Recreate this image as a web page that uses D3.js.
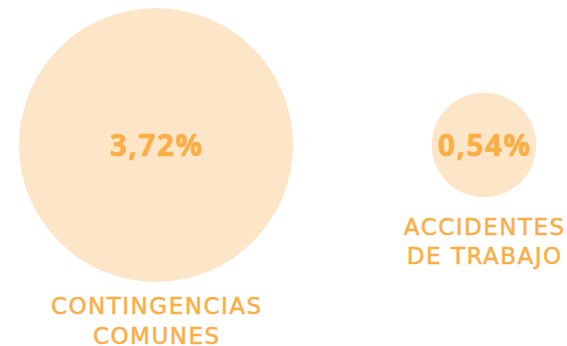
<!DOCTYPE html>
<html>
<head>
<meta charset="utf-8">
<script src="https://cdn.jsdelivr.net/npm/d3@7"></script>
<style>
  html, body { margin: 0; padding: 0; background: #ffffff; }
  svg { display: block; }
</style>
</head>
<body>
<svg id="chart" width="567" height="346"></svg>
<script>
// Absence rate by cause (percent)
const categories = ["CONTINGENCIAS COMUNES", "ACCIDENTES DE TRABAJO"];
const labelLines = [["CONTINGENCIAS", "COMUNES"], ["ACCIDENTES", "DE TRABAJO"]];
const values = [3.72, 0.54];
const valueLabels = ["3,72%", "0,54%"];

const fillColor = "#fde6c7";
const textColor = "#fbae45";

const svg = d3.select("#chart");

// Bubble centres along one row, bubble area proportional to the value
const x = d3.scalePoint().domain(categories).range([156, 484]);
const r = d3.scaleSqrt().domain([0, d3.max(values)]).range([0, 137]);
const cy = 145;

const data = categories.map((c, i) => ({
  cat: c, value: values[i], label: valueLabels[i], lines: labelLines[i]
}));

const g = svg.selectAll("g.bubble").data(data).join("g")
  .attr("class", "bubble")
  .attr("transform", d => `translate(${x(d.cat)},${cy})`);

g.append("circle")
  .attr("r", d => r(d.value))
  .attr("fill", fillColor);

const valueSpacing = 1.6;
g.append("text")
  .attr("text-anchor", "middle")
  .attr("y", 11)
  .attr("dx", valueSpacing / 2)
  .attr("font-family", "'Open Sans', sans-serif")
  .attr("font-weight", 700)
  .attr("font-size", 29.5)
  .attr("letter-spacing", valueSpacing)
  .attr("fill", textColor)
  .attr("stroke", textColor)
  .attr("stroke-width", 0.6)
  .text(d => d.label);

// Category captions under each bubble
const captionSpacing = 1.5;
const gapBelow = [32, 38];
const lineStep = [30, 28.5];
g.each(function(d, i) {
  const t = d3.select(this).append("text")
    .attr("text-anchor", "middle")
    .attr("font-family", "'DejaVu Sans', sans-serif")
    .attr("font-size", 23)
    .attr("letter-spacing", captionSpacing)
    .attr("fill", textColor)
    .attr("stroke", textColor)
    .attr("stroke-width", 0.5);
  const top = r(d.value) + gapBelow[i];
  d.lines.forEach((line, k) => {
    t.append("tspan")
      .attr("x", captionSpacing / 2)
      .attr("y", top + k * lineStep[i])
      .text(line);
  });
});
</script>
</body>
</html>
